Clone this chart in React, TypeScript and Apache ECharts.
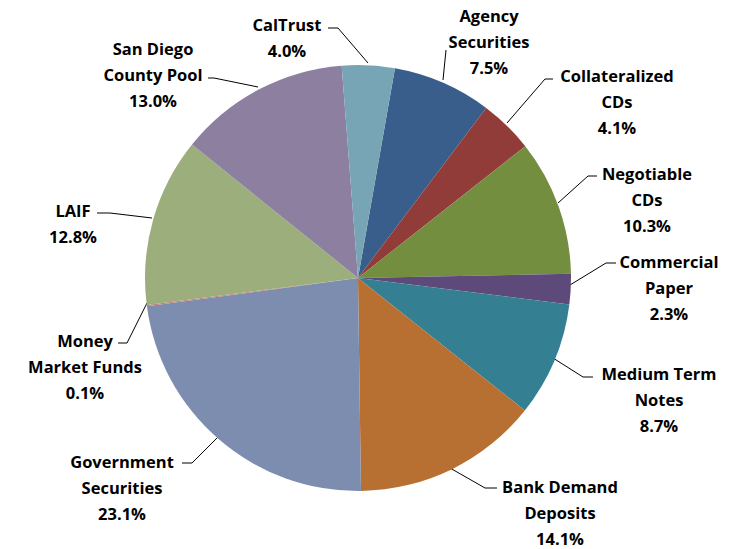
import React, { useEffect, useRef } from "react";
import * as echarts from "echarts";

const categories = [
  "Agency\nSecurities",
  "Collateralized\nCDs",
  "Negotiable\nCDs",
  "Commercial\nPaper",
  "Medium Term\nNotes",
  "Bank Demand\nDeposits",
  "Government\nSecurities",
  "Money\nMarket Funds",
  "LAIF",
  "San Diego\nCounty Pool",
  "CalTrust",
];
const shares = [7.5, 4.1, 10.3, 2.3, 8.7, 14.1, 23.1, 0.1, 12.8, 13.0, 4.0];
const colors = [
  "#3A5E8C",
  "#923C3A",
  "#738E3E",
  "#5E4A7A",
  "#357F92",
  "#B86F32",
  "#7D8DB0",
  "#C0807A",
  "#9CAE7C",
  "#8C7FA0",
  "#78A5B6",
];

// label block centre (x, y), label-line end near text (lx, ly), knee (kx, ky), line start on pie (px, py)
const LABEL_LAYOUT = [
  { x: 489, y: 41, lx: 446, ly: 50, kx: 445, ky: 60, px: 443, py: 80 },
  { x: 617, y: 101, lx: 553, ly: 79, kx: 545, ky: 79, px: 507, py: 123 },
  { x: 647, y: 199, lx: 597, ly: 176, kx: 588, ky: 176, px: 558, py: 203 },
  { x: 669, y: 287, lx: 616, ly: 263, kx: 606, ky: 263, px: 570, py: 285 },
  { x: 659, y: 399, lx: 593, ly: 377, kx: 583, ky: 377, px: 553, py: 358 },
  { x: 560, y: 512, lx: 497, ly: 488, kx: 485, ky: 488, px: 450, py: 468 },
  { x: 122, y: 487, lx: 182, ly: 463, kx: 192, ky: 463, px: 218, py: 437 },
  { x: 85, y: 366, lx: 118, ly: 343, kx: 127, ky: 343, px: 147, py: 303 },
  { x: 73, y: 223, lx: 97, ly: 213, kx: 110, ky: 213, px: 152, py: 218 },
  { x: 153, y: 74, lx: 208, ly: 78, kx: 214, ky: 78, px: 258, py: 87 },
  { x: 287, y: 37, lx: 328, ly: 28, kx: 338, ky: 28, px: 368, py: 63 },
];

export default function App() {
  const ref = useRef<HTMLDivElement>(null);
  useEffect(() => {
    if (!ref.current) return;
    const chart = echarts.init(ref.current, null, { renderer: "svg" });
    chart.setOption({
      animation: false,
      backgroundColor: "#ffffff",
      series: [
        {
          type: "pie",
          center: [358, 278],
          radius: 213,
          startAngle: 80,
          clockwise: true,
          avoidLabelOverlap: false,
          itemStyle: { borderWidth: 0 },
          emphasis: { disabled: true },
          data: categories.map((name, i) => ({
            name,
            value: shares[i],
            itemStyle: { color: colors[i] },
          })),
          label: {
            show: true,
            position: "outside",
            formatter: (p: any) => `${p.name}\n${Number(p.value).toFixed(1)}%`,
            fontFamily: "Open Sans",
            fontWeight: "bold",
            fontSize: 16.5,
            lineHeight: 26,
            color: "#000000",
            align: "center",
          },
          labelLine: {
            show: true,
            length: 15,
            length2: 10,
            lineStyle: { color: "#000000", width: 1 },
          },
          labelLayout: (params: any) => {
            const l = LABEL_LAYOUT[params.dataIndex];
            return {
              x: l.x,
              y: l.y,
              align: "center",
              verticalAlign: "middle",
              labelLinePoints: [
                [l.px, l.py],
                [l.kx, l.ky],
                [l.lx, l.ly],
              ],
            };
          },
        },
      ],
    });
    return () => chart.dispose();
  }, []);
  return (
    <div
      ref={ref}
      style={{ position: "fixed", left: 0, top: 0, width: 737, height: 549 }}
    />
  );
}
